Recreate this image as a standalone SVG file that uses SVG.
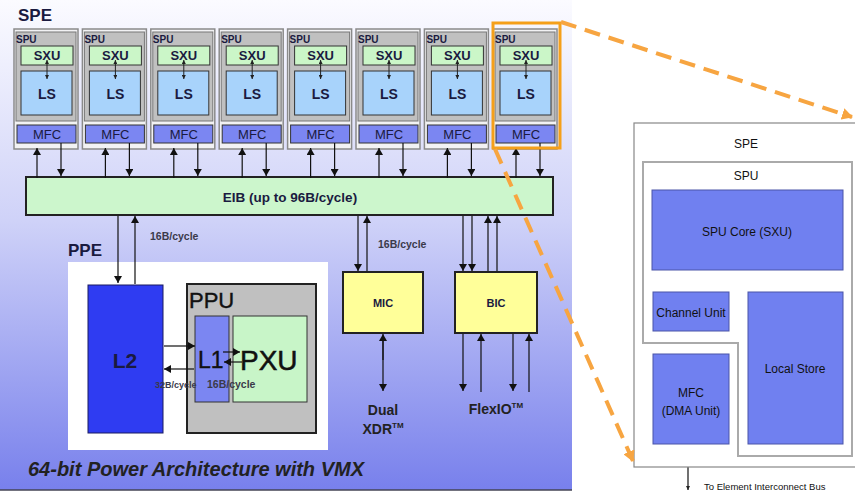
<svg xmlns="http://www.w3.org/2000/svg" width="855" height="492" viewBox="0 0 855 492">
<defs>
<linearGradient id="bg" x1="0" y1="0" x2="0" y2="1">
<stop offset="0" stop-color="#fbfbff"/>
<stop offset="0.45" stop-color="#cfd2f8"/>
<stop offset="1" stop-color="#7880ec"/>
</linearGradient>
<marker id="ah" markerWidth="7" markerHeight="8" refX="7" refY="4" orient="auto" markerUnits="userSpaceOnUse">
<path d="M0,0 L7,4 L0,8 Z" fill="#111"/>
</marker>
<marker id="as" markerWidth="4" markerHeight="4" refX="4" refY="2" orient="auto-start-reverse" markerUnits="userSpaceOnUse">
<path d="M0,0 L4,2 L0,4 Z" fill="#222"/>
</marker>
<marker id="ao" markerWidth="12" markerHeight="12" refX="10" refY="6" orient="auto" markerUnits="userSpaceOnUse">
<path d="M0,0 L11,6 L0,12 Z" fill="#f7a541"/>
</marker>
<g id="spe">
<rect x="0" y="0" width="64" height="120" fill="#f2f2f4" stroke="#8a8a8a" stroke-width="1.5"/>
<rect x="2" y="3" width="60" height="89" fill="#c0c0c0" stroke="#777" stroke-width="1"/>
<rect x="7" y="17" width="52" height="19" fill="#cbf6c8" stroke="#333" stroke-width="1"/>
<rect x="7" y="42" width="51" height="44" fill="#a8d3fb" stroke="#333" stroke-width="1"/>
<rect x="3" y="96" width="59" height="18" fill="#7b86f2" stroke="#333" stroke-width="1"/>
<line x1="33" y1="31" x2="33" y2="50" stroke="#222" stroke-width="1" marker-start="url(#as)" marker-end="url(#as)"/>
<text x="2" y="14" class="spu">SPU</text>
<text x="33" y="31" class="sxu">SXU</text>
<text x="33" y="70" class="ls">LS</text>
<text x="33" y="110" class="mfc">MFC</text>
</g>
</defs>
<style>
text{font-family:"Liberation Sans",Arial,sans-serif;fill:#1a1a40}
.spu{font-size:10px;font-weight:bold}
.sxu{font-size:13px;font-weight:bold;text-anchor:middle}
.ls{font-size:14px;font-weight:bold;text-anchor:middle}
.mfc{font-size:13px;text-anchor:middle}
.b{font-weight:bold}
.m{text-anchor:middle}
.lbl{font-weight:bold;fill:#3a3a4a}
.conn line{stroke:#111;stroke-width:1.2}
.rp text{fill:#111;font-size:12px;text-anchor:middle}
.rbox{fill:#7080f0;stroke:#4a55a8;stroke-width:1}
</style>

<rect x="0" y="0" width="572" height="490" fill="url(#bg)"/>
<line x1="0" y1="490" x2="572" y2="490" stroke="#445" stroke-width="1.5"/>

<text x="18" y="21" class="b" font-size="17">SPE</text>

<g id="spe1"><use href="#spe" x="14" y="29"/></g>
<g id="spe2"><use href="#spe" x="82.4" y="29"/></g>
<g id="spe3"><use href="#spe" x="150.8" y="29"/></g>
<g id="spe4"><use href="#spe" x="219.2" y="29"/></g>
<g id="spe5"><use href="#spe" x="287.6" y="29"/></g>
<g id="spe6"><use href="#spe" x="356" y="29"/></g>
<g id="spe7"><use href="#spe" x="424.4" y="29"/></g>
<g id="spe8"><use href="#spe" x="493" y="29"/></g>

<g id="eib">
<rect x="26" y="177" width="527" height="38" fill="#ccf6cc" stroke="#222" stroke-width="2"/>
<text x="290" y="202" class="b m" font-size="13.5">EIB (up to 96B/cycle)</text>
</g>

<g id="ppe">
<text x="68" y="256" class="b" font-size="17">PPE</text>
<rect x="68" y="262" width="260" height="188" fill="#ffffff"/>
</g>
<g id="l2">
<rect x="88" y="285" width="75" height="148" fill="#2f3cf2" stroke="#1a1a60" stroke-width="1"/>
<text x="125" y="368" class="b m" font-size="21" fill="#111">L2</text>
</g>
<g id="ppu">
<rect x="187" y="284" width="129" height="149" fill="#c0c0c0" stroke="#222" stroke-width="2"/>
<text x="189" y="308" font-size="22" style="fill:#111;stroke:#111;stroke-width:0.4">PPU</text>
</g>
<g id="l1">
<rect x="195" y="316" width="34" height="86" fill="#7b86f2" stroke="#333" stroke-width="1"/>
<text x="198" y="368" font-size="23" style="fill:#111;stroke:#111;stroke-width:0.4">L1</text>
</g>
<g id="pxu">
<rect x="233" y="316" width="74" height="86" fill="#c8f5c8" stroke="#333" stroke-width="1"/>
<text x="240" y="370" font-size="28" style="fill:#111;stroke:#111;stroke-width:0.5">PXU</text>
</g>

<g id="mic">
<rect x="343" y="272" width="80" height="61" fill="#ffff99" stroke="#222" stroke-width="2"/>
<text x="383" y="307" class="b m" font-size="11">MIC</text>
</g>
<g id="bic">
<rect x="455" y="272" width="82" height="61" fill="#ffff99" stroke="#222" stroke-width="2"/>
<text x="496" y="307" class="b m" font-size="11">BIC</text>
</g>

<g id="labels">
<text x="150" y="240" class="lbl" font-size="10.5">16B/cycle</text>
<text x="378" y="248" class="lbl" font-size="10.5">16B/cycle</text>
<text x="155" y="388" class="lbl" font-size="9">32B/cycle</text>
<text x="207" y="388" class="lbl" font-size="10.5">16B/cycle</text>
<text x="383" y="415" class="b m" font-size="14" style="fill:#222">Dual</text>
<text x="383" y="434" class="b m" font-size="14" style="fill:#222">XDR<tspan font-size="8" dy="-6">TM</tspan></text>
<text x="496" y="414" class="b m" font-size="14" style="fill:#222">FlexIO<tspan font-size="8" dy="-6">TM</tspan></text>
<text x="28" y="476" class="b" font-size="20" font-style="italic" style="fill:#222">64-bit Power Architecture with VMX</text>
</g>

<g class="conn" id="connectors">
<line x1="37" y1="178" x2="37" y2="148" marker-end="url(#ah)"/><line x1="61" y1="143" x2="61" y2="176" marker-end="url(#ah)"/>
<line x1="105.4" y1="178" x2="105.4" y2="148" marker-end="url(#ah)"/><line x1="129.4" y1="143" x2="129.4" y2="176" marker-end="url(#ah)"/>
<line x1="173.8" y1="178" x2="173.8" y2="148" marker-end="url(#ah)"/><line x1="197.8" y1="143" x2="197.8" y2="176" marker-end="url(#ah)"/>
<line x1="242.2" y1="178" x2="242.2" y2="148" marker-end="url(#ah)"/><line x1="266.2" y1="143" x2="266.2" y2="176" marker-end="url(#ah)"/>
<line x1="310.6" y1="178" x2="310.6" y2="148" marker-end="url(#ah)"/><line x1="334.6" y1="143" x2="334.6" y2="176" marker-end="url(#ah)"/>
<line x1="379" y1="178" x2="379" y2="148" marker-end="url(#ah)"/><line x1="403" y1="143" x2="403" y2="176" marker-end="url(#ah)"/>
<line x1="447.4" y1="178" x2="447.4" y2="148" marker-end="url(#ah)"/><line x1="471.4" y1="143" x2="471.4" y2="176" marker-end="url(#ah)"/>
<line x1="516" y1="178" x2="516" y2="148" marker-end="url(#ah)"/><line x1="540" y1="143" x2="540" y2="176" marker-end="url(#ah)"/>

<line x1="118" y1="216" x2="118" y2="283" marker-end="url(#ah)"/>
<line x1="135" y1="284" x2="135" y2="216" marker-end="url(#ah)"/>

<line x1="358" y1="216" x2="358" y2="271" marker-end="url(#ah)"/>
<line x1="367" y1="271" x2="367" y2="216" marker-end="url(#ah)"/>
<line x1="463" y1="216" x2="463" y2="271" marker-end="url(#ah)"/>
<line x1="472" y1="216" x2="472" y2="271" marker-end="url(#ah)"/>
<line x1="488" y1="271" x2="488" y2="216" marker-end="url(#ah)"/>
<line x1="497" y1="271" x2="497" y2="216" marker-end="url(#ah)"/>

<line x1="383" y1="341" x2="383" y2="391" marker-end="url(#ah)"/>
<line x1="383" y1="360" x2="383" y2="334" marker-end="url(#ah)"/>
<line x1="463" y1="334" x2="463" y2="391" marker-end="url(#ah)"/>
<line x1="481" y1="392" x2="481" y2="334" marker-end="url(#ah)"/>
<line x1="513" y1="334" x2="513" y2="391" marker-end="url(#ah)"/>
<line x1="529" y1="392" x2="529" y2="334" marker-end="url(#ah)"/>

<line x1="164" y1="346" x2="195" y2="346" marker-end="url(#ah)"/>
<line x1="194" y1="369" x2="164" y2="369" marker-end="url(#ah)"/>
<line x1="223" y1="352" x2="240" y2="352" marker-end="url(#ah)"/>
<line x1="242" y1="362" x2="224" y2="362" marker-end="url(#ah)"/>

<line x1="689" y1="276" x2="689" y2="285" stroke-width="1" marker-start="url(#as)" marker-end="url(#as)"/>
<line x1="797" y1="276" x2="797" y2="285" stroke-width="1" marker-start="url(#as)" marker-end="url(#as)"/>
<line x1="689" y1="337" x2="689" y2="348" stroke-width="1" marker-start="url(#as)" marker-end="url(#as)"/>
<line x1="734" y1="393" x2="743" y2="393" stroke-width="1" marker-start="url(#as)" marker-end="url(#as)"/>
<line x1="688" y1="450" x2="688" y2="490" stroke-width="1" marker-start="url(#as)" marker-end="url(#as)"/>
</g>

<g class="rp" id="spe-detail">
<rect x="634" y="123" width="230" height="344" fill="#ffffff" stroke="#888" stroke-width="1.2"/>
<text x="746" y="148" font-size="14">SPE</text>
<path d="M643,162 H852 V456 H738 V343 H643 Z" fill="#ffffff" stroke="#aaa" stroke-width="2"/>
<text x="746" y="180">SPU</text>
</g>
<g class="rp" id="spu-core">
<rect class="rbox" x="652" y="190" width="191" height="80"/>
<text x="747" y="236">SPU Core (SXU)</text>
</g>
<g class="rp" id="channel-unit">
<rect class="rbox" x="653" y="292" width="76" height="39"/>
<text x="691" y="317">Channel Unit</text>
</g>
<g class="rp" id="local-store">
<rect class="rbox" x="748" y="292" width="95" height="152"/>
<text x="795" y="373">Local Store</text>
</g>
<g class="rp" id="mfc-dma">
<rect class="rbox" x="653" y="354" width="76" height="90"/>
<text x="691" y="397">MFC</text>
<text x="691" y="415">(DMA Unit)</text>
</g>
<text x="704" y="490" font-size="9.5" style="fill:#111">To Element Interconnect Bus</text>

<g id="highlight">
<rect x="493" y="23" width="67" height="125" fill="none" stroke="#f5a01a" stroke-width="3"/>
<line x1="561" y1="22" x2="852" y2="117" stroke="#f7a541" stroke-width="4" stroke-dasharray="16 9" marker-end="url(#ao)"/>
<line x1="495" y1="149" x2="633" y2="461" stroke="#f7a541" stroke-width="4" stroke-dasharray="16 9" marker-end="url(#ao)"/>
</g>
</svg>
